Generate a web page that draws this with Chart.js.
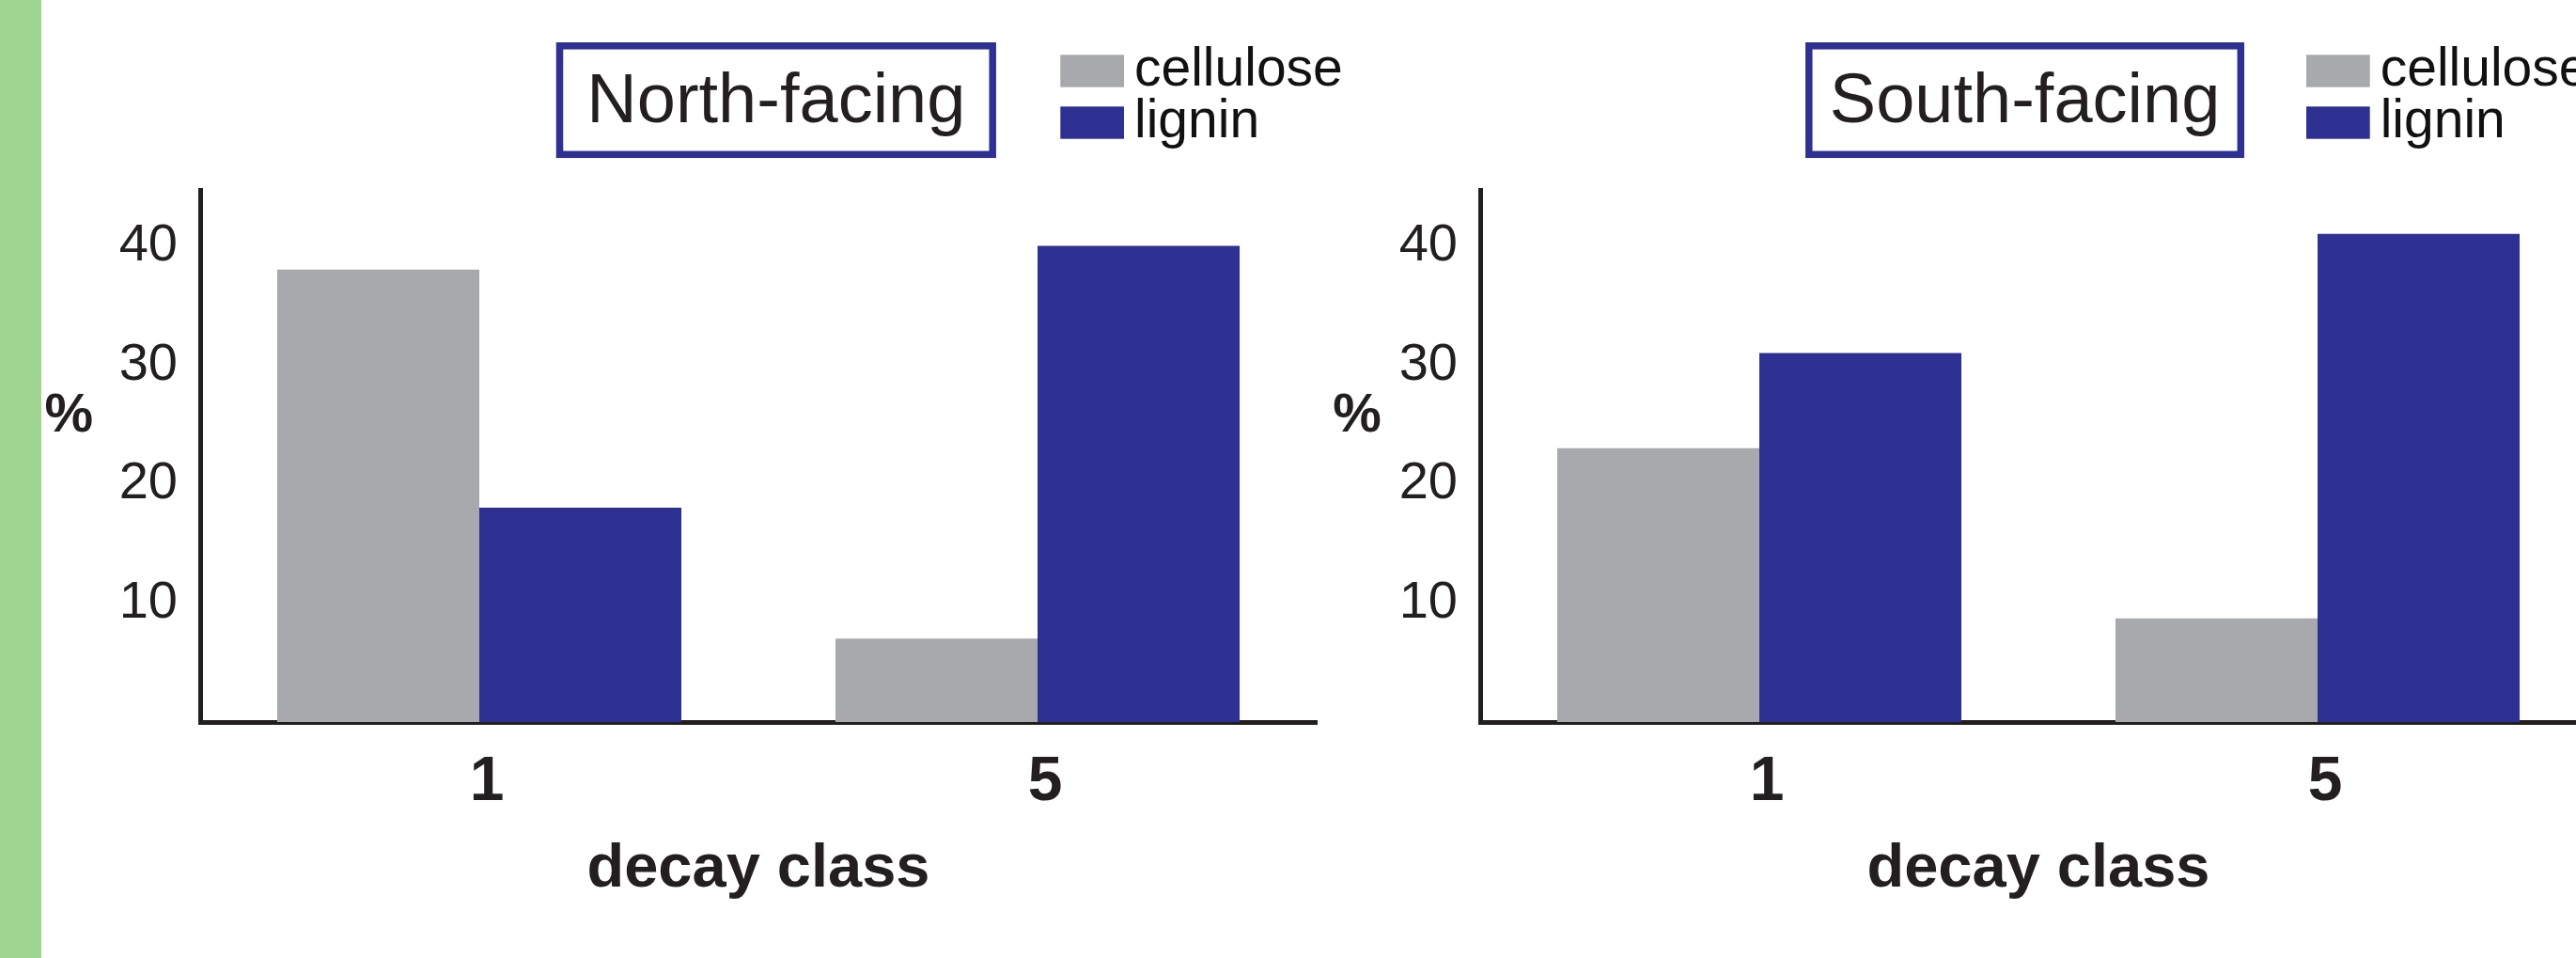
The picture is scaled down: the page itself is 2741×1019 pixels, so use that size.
<!DOCTYPE html>
<html>
<head>
<meta charset="utf-8">
<title>Cellulose and lignin by decay class</title>
<script src="https://cdn.jsdelivr.net/npm/chart.js@4.4.1/dist/chart.umd.min.js"></script>
<style>
  html, body { margin: 0; padding: 0; background: #ffffff; overflow: hidden; width: 2741px; height: 1019px; }
  #strip { position: absolute; left: 0; top: 0; width: 44px; height: 1019px; background: #9fd591; }
  .panel { position: absolute; top: 0; width: 1440px; height: 1019px; }
  #north { left: 44px; }
  #south { left: 1406px; }
  canvas { display: block; }
</style>
</head>
<body>
<div id="strip"></div>
<div class="panel" id="north"><canvas id="cNorth" width="1440" height="1019" style="width:1440px;height:1019px"></canvas></div>
<div class="panel" id="south"><canvas id="cSouth" width="1440" height="1019" style="width:1440px;height:1019px"></canvas></div>
<script>
// Decay classes on the x axis
const decayClasses = ['1', '5'];
// Series names
const seriesNames = ['cellulose', 'lignin'];
// Percent of each component, north-facing slope
const northCellulose = [38, 7];
const northLignin = [18, 40];
// Percent of each component, south-facing slope
const southCellulose = [23, 8.7];
const southLignin = [31, 41];
// Labelled y ticks
const yTickValues = [10, 20, 30, 40];
// Panel headings
const panelTitles = ['North-facing', 'South-facing'];

const FONT = '"Liberation Sans", Arial, Helvetica, sans-serif';
const INK = '#231f20';
const GREY = '#a7a9ac';
const NAVY = '#2e3192';

// Boxed heading, stacked legend and the "%" axis label
const panelDecor = {
  id: 'panelDecor',
  afterDraw(chart, args, o) {
    const ctx = chart.ctx;
    ctx.save();
    // heading box
    ctx.strokeStyle = NAVY;
    ctx.lineWidth = o.boxLine;
    ctx.strokeRect(o.boxX, o.boxY, o.boxW, o.boxH);
    ctx.fillStyle = INK;
    ctx.font = '74px ' + FONT;
    ctx.textAlign = 'center';
    ctx.textBaseline = 'alphabetic';
    ctx.fillText(o.title, o.boxX + o.boxW / 2, o.titleBaseline);
    // legend
    ctx.textAlign = 'left';
    ctx.font = '57px ' + FONT;
    chart.data.datasets.forEach((ds, i) => {
      const y = o.legendY + i * o.legendStep;
      ctx.fillStyle = ds.backgroundColor;
      ctx.fillRect(o.legendX, y, o.swatchW, o.swatchH);
      ctx.fillStyle = '#111111';
      ctx.fillText(ds.label, o.legendX + o.swatchW + 11, y + 32.4);
    });
    // "%" label beside the value axis
    ctx.font = 'bold 58px ' + FONT;
    ctx.textAlign = 'center';
    ctx.textBaseline = 'middle';
    ctx.fillStyle = INK;
    ctx.fillText('%', o.pctX, 443);
    ctx.restore();
  }
};

function makePanel(canvasId, cellulose, lignin, decor) {
  return new Chart(document.getElementById(canvasId), {
    type: 'bar',
    data: {
      labels: decayClasses,
      datasets: [
        { label: seriesNames[0], data: cellulose, backgroundColor: GREY, borderWidth: 0 },
        { label: seriesNames[1], data: lignin, backgroundColor: NAVY, borderWidth: 0 }
      ]
    },
    options: {
      responsive: false,
      animation: false,
      events: [],
      layout: { padding: { top: 202, right: 83, bottom: 0, left: 0 } },
      datasets: { bar: { categoryPercentage: 0.724, barPercentage: 1.0 } },
      plugins: {
        legend: { display: false },
        title: { display: false },
        tooltip: { enabled: false },
        panelDecor: decor
      },
      scales: {
        x: {
          z: 1,
          grid: { display: false, drawTicks: false },
          border: { display: true, color: INK, width: 5 },
          ticks: { color: INK, padding: 25, labelOffset: 8, font: { family: FONT, size: 66, weight: 'bold' } },
          title: {
            display: true, text: 'decay class', color: INK,
            font: { family: FONT, size: 65, weight: 'bold' },
            padding: { top: 0, bottom: 55 }
          },
          afterFit(scale) { scale.height = 251; }
        },
        y: {
          z: 1,
          min: 0,
          max: 44.7,
          grid: { display: false, drawTicks: false },
          border: { display: true, color: INK, width: 5 },
          ticks: { color: INK, padding: 24, font: { family: FONT, size: 56 } },
          afterBuildTicks(scale) { scale.ticks = yTickValues.map(v => ({ value: v })); },
          afterFit(scale) { scale.width = 169; }
        }
      }
    },
    plugins: [panelDecor]
  });
}

makePanel('cNorth', northCellulose, northLignin, {
  title: panelTitles[0],
  boxX: 551.5, boxY: 48.8, boxW: 460.7, boxH: 115.5, boxLine: 7.5, titleBaseline: 130,
  legendX: 1084.3, legendY: 58.3, legendStep: 55, swatchW: 67.7, swatchH: 34.4,
  pctX: 29.4
});

makePanel('cSouth', southCellulose, southLignin, {
  title: panelTitles[1],
  boxX: 518.8, boxY: 48.8, boxW: 459.5, boxH: 115.5, boxLine: 7.5, titleBaseline: 130,
  legendX: 1048, legendY: 58.3, legendStep: 55, swatchW: 67.7, swatchH: 34.4,
  pctX: 38
});
</script>
</body>
</html>
